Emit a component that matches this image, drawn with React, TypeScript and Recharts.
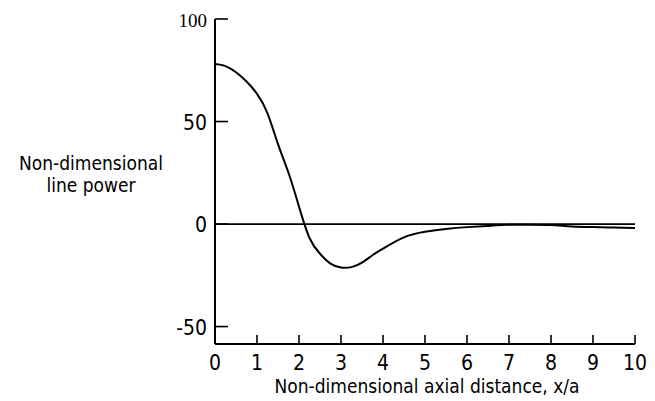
import React from "react";
import { LineChart, Line, XAxis, YAxis, ReferenceLine, Label } from "recharts";

const distance = [0, 0.25, 0.5, 0.75, 1.0, 1.25, 1.5, 1.75, 2.0, 2.25, 2.5, 2.75, 3.0, 3.25, 3.5, 3.75, 4.0, 4.5, 5.0, 5.5, 6.0, 6.5, 7.0, 7.5, 8.0, 8.5, 9.0, 9.5, 10];
const power = [78, 77, 74, 69.5, 63.5, 54, 39, 25, 8.5, -6.8, -14.5, -19.3, -21.2, -21.0, -18.8, -15.2, -12, -6.5, -3.8, -2.4, -1.5, -0.9, -0.4, -0.3, -0.5, -1.2, -1.5, -1.7, -1.9];
const xTicks = [0, 1, 2, 3, 4, 5, 6, 7, 8, 9, 10];
const yTicks = [-50, 0, 50, 100];
const xTitle = "Non-dimensional axial distance, x/a";
const yTitle = ["Non-dimensional", "line power"];

const data = distance.map((d, i) => ({ x: d, y: power[i] }));

const FONT = "'DejaVu Sans Condensed', 'DejaVu Sans', sans-serif";

const XTick = (props: any) => {
  const { x, y, payload } = props;
  return (
    <g>
      <line x1={x} y1={y} x2={x} y2={y - 9} stroke="#000" strokeWidth={1.6} />
      <text x={x} y={y + 26} textAnchor="middle" fontFamily={FONT} fontStretch="condensed" fontSize={21} fill="#000">
        {payload.value}
      </text>
    </g>
  );
};

const YTick = (props: any) => {
  const { x, y, payload } = props;
  const isTop = payload.value === 100;
  return (
    <g>
      <line x1={x} y1={y} x2={x + 13} y2={y} stroke="#000" strokeWidth={1.6} />
      <text
        x={x - 8}
        y={y + 8}
        textAnchor="end"
        fontFamily={isTop ? "'Liberation Serif', serif" : FONT}
        fontStretch="condensed"
        fontSize={isTop ? 19 : 21}
        fill="#000"
      >
        {payload.value}
      </text>
    </g>
  );
};

const YTitle = (props: any) => {
  const vb = props.viewBox || { x: 0, y: 0, width: 0, height: 0 };
  const cx = vb.x + 91;
  return (
    <text textAnchor="middle" fontFamily={FONT} fontStretch="condensed" fontSize={19} fill="#000">
      <tspan x={cx} y={vb.y + 151}>{yTitle[0]}</tspan>
      <tspan x={cx} y={vb.y + 173}>{yTitle[1]}</tspan>
    </text>
  );
};

const XTitle = (props: any) => {
  const vb = props.viewBox || { x: 0, y: 0, width: 0, height: 0 };
  return (
    <text x={vb.x + vb.width / 2 + 2} y={vb.y + 49} textAnchor="middle" fontFamily={FONT} fontStretch="condensed" fontSize={19} fill="#000">
      {xTitle}
    </text>
  );
};

export default function App() {
  return (
    <div style={{ position: "absolute", left: 0, top: 0, width: 655, height: 401, background: "#fff" }}>
      <LineChart width={655} height={401} data={data} margin={{ top: 19, right: 20, bottom: 0, left: 0 }}>
        <XAxis
          dataKey="x"
          type="number"
          domain={[0, 10]}
          ticks={xTicks}
          height={57}
          tickSize={0}
          tickMargin={0}
          tickLine={false}
          tick={<XTick />}
          axisLine={{ stroke: "#000", strokeWidth: 2 }}
          interval={0}
        >
          <Label content={<XTitle />} />
        </XAxis>
        <YAxis
          type="number"
          domain={[-58.5, 100]}
          ticks={yTicks}
          width={215}
          tickSize={0}
          tickMargin={0}
          tickLine={false}
          tick={<YTick />}
          axisLine={{ stroke: "#000", strokeWidth: 2 }}
          interval={0}
        >
          <Label content={<YTitle />} />
        </YAxis>
        <ReferenceLine y={0} stroke="#000" strokeWidth={1.8} />
        <Line
          type="natural"
          dataKey="y"
          stroke="#000"
          strokeWidth={2}
          dot={false}
          isAnimationActive={false}
        />
      </LineChart>
    </div>
  );
}
